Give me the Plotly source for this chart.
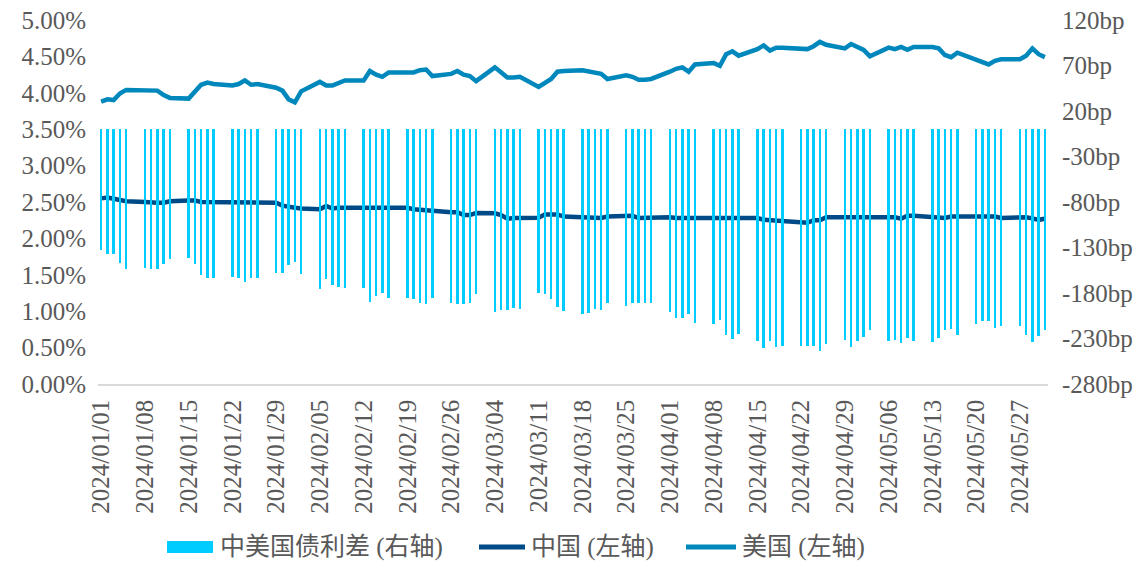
import pandas as pd
import plotly.graph_objects as go

# Trading days (weekdays) 2024-01-01 .. 2024-05-31
dates = pd.bdate_range("2024-01-01", "2024-05-31")

us_yield = [
    3.88, 3.91, 3.90, 3.99, 4.04,
    4.03, 4.02, 4.03, 3.97, 3.93,
    3.92, 4.02, 4.11, 4.14, 4.12,
    4.10, 4.12, 4.17, 4.11, 4.12,
    4.07, 4.03, 3.91, 3.87, 4.02,
    4.15, 4.10, 4.10, 4.14, 4.17,
    4.17, 4.30, 4.25, 4.22, 4.28,
    4.28, 4.28, 4.31, 4.32, 4.23,
    4.26, 4.30, 4.25, 4.23, 4.16,
    4.35, 4.28, 4.21, 4.21, 4.22,
    4.08, 4.13, 4.19, 4.29, 4.30,
    4.31, 4.29, 4.27, 4.26, 4.19,
    4.24, 4.22, 4.18, 4.18, 4.19,
    4.29, 4.33, 4.35, 4.29, 4.39,
    4.41, 4.37, 4.53, 4.57, 4.51,
    4.60, 4.65, 4.58, 4.62, 4.62,
    4.61, 4.60, 4.64, 4.70, 4.66,
    4.61, 4.67, 4.63, 4.59, 4.50,
    4.62, 4.60, 4.63, 4.59, 4.63,
    4.63, 4.61, 4.52, 4.49, 4.55,
    4.45, 4.41, 4.39, 4.44, 4.46,
    4.46, 4.51, 4.61, 4.53, 4.49,
]

cn_yield = [
    2.55, 2.56, 2.545, 2.53, 2.51,
    2.50, 2.49, 2.49, 2.49, 2.51,
    2.52, 2.52, 2.50, 2.50, 2.50,
    2.49, 2.50, 2.50, 2.49, 2.49,
    2.49, 2.45, 2.43, 2.42, 2.41,
    2.40, 2.445, 2.41, 2.42, 2.42,
    2.42, 2.42, 2.42, 2.42, 2.42,
    2.42, 2.40, 2.39, 2.39, 2.38,
    2.36, 2.36, 2.32, 2.32, 2.35,
    2.345, 2.32, 2.27, 2.28, 2.28,
    2.285, 2.33, 2.33, 2.33, 2.30,
    2.285, 2.285, 2.28, 2.28, 2.30,
    2.31, 2.31, 2.28, 2.285, 2.285,
    2.29, 2.28, 2.28, 2.28, 2.28,
    2.28, 2.29, 2.28, 2.28, 2.28,
    2.28, 2.255, 2.25, 2.25, 2.24,
    2.225, 2.215, 2.25, 2.25, 2.29,
    2.29, 2.29, 2.29, 2.29, 2.29,
    2.29, 2.29, 2.27, 2.31, 2.31,
    2.285, 2.275, 2.28, 2.30, 2.30,
    2.29, 2.30, 2.30, 2.30, 2.28,
    2.29, 2.29, 2.275, 2.255, 2.27,
]

spread_bp = [
    -133, -137, -137, -147, -154,
    -152, -154, -154, -148, -143,
    -142, -148, -160, -164, -163,
    -162, -163, -168, -163, -164,
    -158, -158, -149, -146, -159,
    -176, -165, -171, -173, -175,
    -175, -190, -183, -180, -186,
    -186, -187, -191, -192, -186,
    -191, -192, -192, -191, -181,
    -201, -199, -199, -197, -198,
    -180, -181, -187, -195, -200,
    -203, -202, -198, -199, -191,
    -194, -191, -191, -191, -191,
    -201, -207, -207, -203, -213,
    -214, -210, -226, -231, -225,
    -233, -240, -233, -239, -238,
    -238, -238, -238, -244, -236,
    -232, -239, -233, -228, -221,
    -233, -232, -235, -229, -233,
    -234, -229, -221, -220, -226,
    -214, -211, -211, -218, -216,
    -216, -226, -234, -227, -221,
]

left_ticks = [0, 0.5, 1, 1.5, 2, 2.5, 3, 3.5, 4, 4.5, 5]
right_ticks = [-280, -230, -180, -130, -80, -30, 20, 70, 120]

names = ["中美国债利差 (右轴)", "中国 (左轴)", "美国 (左轴)"]
colors = ["#00CCFF", "#004B87", "#0088BC"]

FONT = "Liberation Serif, Times New Roman, Noto Sans CJK SC, serif"
TXT = "#595959"
DAY_MS = 86400000
FS = 25

OFF = 8  # default page body margin
W, H = 1148 - OFF, 563 - OFF
L, R, T, B = 90, 100, 12, 179
PW, PH = W - L - R, H - T - B


def px(x):
    return (x - OFF - L) / PW


def py(y):
    return (H - B - (y - OFF)) / PH


fig = go.Figure()
fig.add_trace(go.Bar(
    x=dates, y=spread_bp, name=names[0], yaxis="y2",
    marker=dict(color=colors[0], line=dict(width=0)),
    width=[0.42 * DAY_MS] * len(dates),
))
fig.add_trace(go.Scatter(
    x=dates, y=cn_yield, name=names[1], mode="lines",
    line=dict(color=colors[1], width=4.5),
))
fig.add_trace(go.Scatter(
    x=dates, y=us_yield, name=names[2], mode="lines",
    line=dict(color=colors[2], width=4.5),
))

# custom legend (symbols + labels) placed under the axis labels
leg_y = 547
shapes = [
    dict(type="rect", xref="paper", yref="paper",
         x0=px(167), x1=px(213), y0=py(553), y1=py(541),
         fillcolor=colors[0], line=dict(width=0)),
    dict(type="line", xref="paper", yref="paper",
         x0=px(479), x1=px(525), y0=py(leg_y), y1=py(leg_y),
         line=dict(color=colors[1], width=5)),
    dict(type="line", xref="paper", yref="paper",
         x0=px(686), x1=px(736), y0=py(leg_y), y1=py(leg_y),
         line=dict(color=colors[2], width=5)),
]
annotations = [
    dict(text=names[0], xref="paper", yref="paper", x=px(218), y=py(leg_y),
         xanchor="left", yanchor="middle", showarrow=False,
         font=dict(size=FS, color=TXT, family=FONT)),
    dict(text=names[1], xref="paper", yref="paper", x=px(529), y=py(leg_y),
         xanchor="left", yanchor="middle", showarrow=False,
         font=dict(size=FS, color=TXT, family=FONT)),
    dict(text=names[2], xref="paper", yref="paper", x=px(740), y=py(leg_y),
         xanchor="left", yanchor="middle", showarrow=False,
         font=dict(size=FS, color=TXT, family=FONT)),
]

fig.update_layout(
    width=W, height=H,
    margin=dict(l=L, r=R, t=T, b=B),
    paper_bgcolor="white", plot_bgcolor="white",
    font=dict(family=FONT, size=FS, color=TXT),
    showlegend=False,
    bargap=0,
    shapes=shapes,
    annotations=annotations,
    xaxis=dict(
        type="date", automargin=False, ticklabeloverflow="allow",
        range=["2023-12-31 12:00", "2024-05-31 12:00"],
        tick0="2024-01-01", dtick=7 * DAY_MS, tickformat="%Y/%m/%d",
        tickangle=-90, showgrid=False, zeroline=False,
        showline=True, linecolor="#D9D9D9", linewidth=1.5,
        ticks="outside", ticklen=4, tickcolor="rgba(0,0,0,0)",
        tickfont=dict(size=FS, color=TXT, family=FONT),
    ),
    yaxis=dict(
        range=[0, 5], tickvals=left_ticks, automargin=False,
        ticklabeloverflow="allow",
        ticktext=[f"{v:.2f}%" for v in left_ticks],
        showgrid=False, zeroline=False, showline=False,
        ticks="outside", ticklen=6, tickcolor="rgba(0,0,0,0)",
        tickfont=dict(size=FS, color=TXT, family=FONT),
    ),
    yaxis2=dict(
        range=[-280, 120], overlaying="y", side="right", automargin=False,
        ticklabeloverflow="allow",
        tickvals=right_ticks, ticktext=[f"{v}bp" for v in right_ticks],
        showgrid=False, zeroline=False, showline=False,
        ticks="outside", ticklen=8, tickcolor="rgba(0,0,0,0)",
        tickfont=dict(size=FS, color=TXT, family=FONT),
    ),
)

fig.write_html("out.html")
